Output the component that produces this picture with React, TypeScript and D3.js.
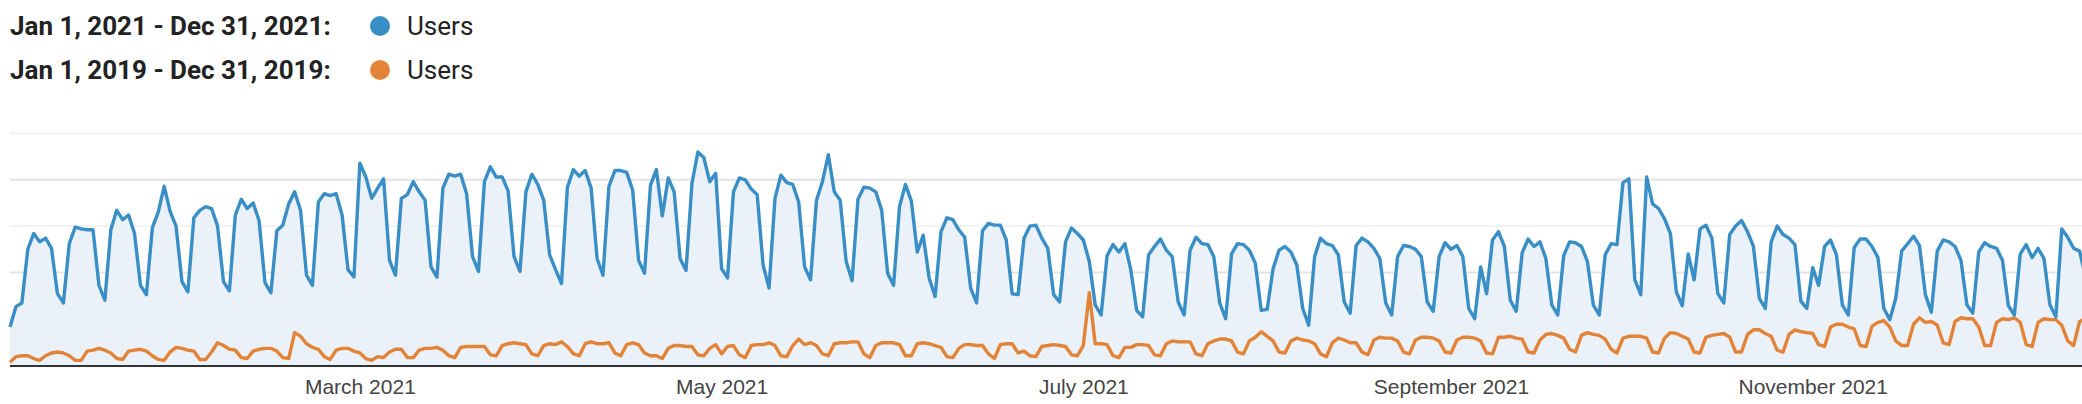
import { useEffect, useRef } from "react";
import * as d3 from "d3";

// Legend rows
const legendLabels = ["Jan 1, 2021 - Dec 31, 2021:", "Jan 1, 2019 - Dec 31, 2019:"];
const seriesName = "Users";

// Daily users, one value per day starting Jan 1 (visible part of the year)
const users2021 = [
  410, 630, 670, 1250, 1420, 1330, 1370, 1260, 770, 670,
  1310, 1490, 1470, 1460, 1460, 860, 700, 1460, 1670, 1570,
  1620, 1420, 860, 760, 1480, 1650, 1930, 1660, 1500, 900,
  790, 1590, 1670, 1710, 1690, 1500, 900, 800, 1620, 1790,
  1690, 1750, 1560, 890, 780, 1450, 1510, 1740, 1870, 1670,
  970, 860, 1760, 1850, 1830, 1850, 1620, 1030, 950, 2180,
  2030, 1800, 1910, 2010, 1130, 970, 1800, 1840, 1980, 1870,
  1780, 1060, 950, 1910, 2060, 2040, 2060, 1850, 1170, 1010,
  1980, 2140, 2030, 2030, 1880, 1170, 1010, 1870, 2060, 1950,
  1780, 1190, 1030, 880, 1920, 2110, 2040, 2100, 1910, 1150,
  970, 1930, 2100, 2100, 2080, 1890, 1130, 990, 1940, 2110,
  1610, 2020, 1870, 1150, 1020, 1960, 2300, 2240, 1980, 2070,
  1040, 940, 1870, 2020, 2000, 1900, 1840, 1080, 830, 1800,
  2050, 1970, 1950, 1760, 1060, 920, 1780, 1980, 2270, 1870,
  1780, 1120, 910, 1790, 1920, 1910, 1870, 1670, 990, 860,
  1710, 1950, 1770, 1220, 1400, 940, 740, 1440, 1590, 1570,
  1460, 1380, 830, 670, 1450, 1530, 1510, 1510, 1350, 770,
  760, 1370, 1500, 1510, 1370, 1260, 760, 680, 1330, 1480,
  1420, 1350, 1120, 650, 540, 1180, 1300, 1220, 1310, 1030,
  590, 520, 1190, 1280, 1360, 1240, 1170, 680, 540, 1240,
  1380, 1310, 1300, 1170, 670, 500, 1200, 1310, 1300, 1240,
  1100, 590, 600, 1040, 1240, 1280, 1220, 1080, 610, 430,
  1170, 1370, 1310, 1290, 1190, 680, 560, 1290, 1370, 1330,
  1260, 1150, 670, 540, 1170, 1290, 1280, 1250, 1170, 680,
  580, 1170, 1320, 1250, 1290, 1170, 610, 500, 1060, 770,
  1350, 1440, 1280, 700, 580, 1210, 1360, 1280, 1330, 1150,
  650, 540, 1180, 1330, 1320, 1280, 1120, 650, 540, 1190,
  1310, 1300, 1970, 2010, 920, 760, 2030, 1740, 1690, 1580,
  1420, 790, 640, 1200, 920, 1470, 1510, 1370, 770, 670,
  1410, 1500, 1560, 1440, 1280, 720, 610, 1330, 1500, 1410,
  1370, 1300, 690, 610, 1050, 860, 1280, 1350, 1190, 650,
  540, 1270, 1360, 1360, 1280, 1160, 610, 490, 720, 1230,
  1310, 1390, 1290, 760, 570, 1230, 1350, 1330, 1280, 1130,
  650, 560, 1220, 1320, 1280, 1260, 1130, 640, 540, 1200,
  1300, 1160, 1260, 1150, 650, 520, 1470, 1380, 1260, 1230,
  960,
];

const users2019 = [
  30, 90, 100, 100, 70, 50, 100, 130, 140, 130,
  100, 50, 50, 150, 160, 180, 160, 130, 70, 60,
  150, 160, 170, 150, 100, 60, 50, 140, 190, 180,
  160, 150, 60, 60, 140, 240, 210, 170, 160, 80,
  70, 150, 170, 180, 180, 150, 80, 70, 350, 310,
  230, 190, 170, 90, 60, 160, 180, 180, 150, 130,
  70, 50, 90, 80, 140, 170, 170, 80, 80, 160,
  180, 180, 190, 160, 100, 80, 190, 200, 200, 200,
  200, 110, 100, 210, 230, 240, 230, 220, 120, 100,
  210, 230, 220, 250, 200, 120, 100, 230, 250, 230,
  230, 240, 130, 100, 220, 240, 220, 130, 100, 100,
  70, 180, 210, 210, 200, 200, 110, 100, 180, 220,
  120, 200, 210, 110, 80, 210, 220, 220, 240, 210,
  100, 90, 210, 280, 220, 240, 210, 120, 100, 230,
  240, 240, 250, 250, 120, 80, 210, 240, 240, 240,
  220, 100, 100, 230, 240, 230, 210, 190, 90, 80,
  180, 220, 220, 210, 210, 120, 70, 220, 230, 230,
  130, 150, 100, 90, 200, 210, 220, 210, 200, 110,
  100, 210, 780, 230, 230, 220, 100, 80, 190, 190,
  220, 220, 210, 110, 100, 230, 260, 250, 250, 250,
  120, 100, 230, 260, 280, 280, 260, 140, 120, 260,
  300, 360, 310, 260, 140, 130, 260, 290, 270, 260,
  230, 120, 90, 240, 290, 270, 240, 240, 140, 110,
  270, 300, 290, 290, 260, 140, 120, 270, 300, 300,
  290, 260, 140, 130, 270, 300, 300, 290, 260, 130,
  120, 300, 300, 310, 290, 280, 140, 130, 270, 330,
  340, 320, 290, 170, 140, 320, 350, 330, 320, 280,
  170, 130, 290, 310, 310, 310, 290, 140, 130, 290,
  350, 340, 310, 280, 140, 130, 300, 320, 330, 340,
  300, 140, 140, 330, 380, 380, 340, 310, 160, 140,
  330, 380, 360, 350, 340, 220, 200, 410, 440, 440,
  410, 390, 210, 200, 420, 460, 480, 410, 260, 210,
  210, 440, 510, 460, 470, 430, 240, 220, 470, 510,
  500, 500, 410, 210, 210, 460, 500, 490, 510, 460,
  220, 200, 460, 500, 490, 490, 430, 260, 210, 470,
  500,
];

// Axis tick labels (first day of each labelled month)
const tickMonths = ["2021-03-01", "2021-05-01", "2021-07-01", "2021-09-01", "2021-11-01"];
const gridValues = [500, 1000, 1500, 2000, 2500];

const BLUE = "#3a8ec6";
const ORANGE = "#e28337";

function Chart() {
  const ref = useRef(null);

  useEffect(() => {
    const width = 2082;
    const height = 404;
    const svg = d3.select(ref.current).attr("width", width).attr("height", height);
    svg.selectAll("*").remove();

    const start = new Date(2021, 0, 1);
    const end = new Date(2021, 11, 31);
    const dayAt = (i) => d3.timeDay.offset(start, i);

    const left = 10;
    const pxPerDay = 5.93;
    const x = d3
      .scaleTime()
      .domain([start, end])
      .range([left, left + pxPerDay * d3.timeDay.count(start, end)]);
    const y = d3.scaleLinear().domain([0, 2500]).range([365, 133.5]);

    // Legend
    const legend = svg.append("g");
    legendLabels.forEach((label, k) => {
      const base = 35 + k * 44;
      legend
        .append("text")
        .attr("x", 10)
        .attr("y", base)
        .attr("font-family", "Roboto, sans-serif")
        .attr("font-weight", 700)
        .attr("font-size", 26)
        .attr("fill", "#222")
        .text(label);
      legend
        .append("circle")
        .attr("cx", 380)
        .attr("cy", base - 9)
        .attr("r", 10)
        .attr("fill", k === 0 ? BLUE : ORANGE);
      legend
        .append("text")
        .attr("x", 407)
        .attr("y", base)
        .attr("font-family", "Roboto, sans-serif")
        .attr("font-size", 26)
        .attr("fill", "#222")
        .text(seriesName);
    });

    // Grid
    const grid = svg.append("g");
    gridValues.forEach((v) => {
      const major = v % 1000 === 0;
      const line = grid
        .append("line")
        .attr("x1", left)
        .attr("x2", width)
        .attr("y1", y(v))
        .attr("y2", y(v));
      if (major) {
        line.attr("stroke", "#e3e3e3").attr("stroke-width", 2);
      } else if (v === 500) {
        line.attr("stroke", "#d6d6d6").attr("stroke-width", 1).attr("stroke-dasharray", "2,4");
      } else {
        line.attr("stroke", "#f2f2f2").attr("stroke-width", 2);
      }
    });

    // Area under the current year
    const area = d3
      .area()
      .x((d, i) => x(dayAt(i)))
      .y0(y(0))
      .y1((d) => y(d));
    svg
      .append("path")
      .datum(users2021)
      .attr("d", area)
      .attr("fill", "#eaf1f8");

    const line = d3
      .line()
      .x((d, i) => x(dayAt(i)))
      .y((d) => y(d));

    svg
      .append("path")
      .datum(users2019)
      .attr("d", line)
      .attr("fill", "none")
      .attr("stroke", ORANGE)
      .attr("stroke-width", 3.4)
      .attr("stroke-linejoin", "round");

    svg
      .append("path")
      .datum(users2021)
      .attr("d", line)
      .attr("fill", "none")
      .attr("stroke", BLUE)
      .attr("stroke-width", 3.4)
      .attr("stroke-linejoin", "round");

    // X axis
    const axis = svg
      .append("g")
      .attr("transform", `translate(0, ${y(0)})`)
      .call(
        d3
          .axisBottom(x)
          .tickValues(tickMonths.map((s) => d3.timeParse("%Y-%m-%d")(s)))
          .tickSize(0)
          .tickPadding(14)
          .tickFormat(d3.timeFormat("%B %Y"))
      );
    axis.select(".domain").remove();
    axis
      .selectAll("text")
      .attr("font-family", "'Liberation Sans', Arial, sans-serif")
      .attr("font-size", 21)
      .attr("fill", "#444");

    svg
      .append("line")
      .attr("x1", left)
      .attr("x2", width)
      .attr("y1", y(0) + 1)
      .attr("y2", y(0) + 1)
      .attr("stroke", "#333")
      .attr("stroke-width", 2);

    return () => {
      d3.select(ref.current).selectAll("*").remove();
    };
  }, []);

  return <svg ref={ref} style={{ position: "absolute", left: 0, top: 0, display: "block" }} />;
}

export default function App() {
  return <Chart />;
}
